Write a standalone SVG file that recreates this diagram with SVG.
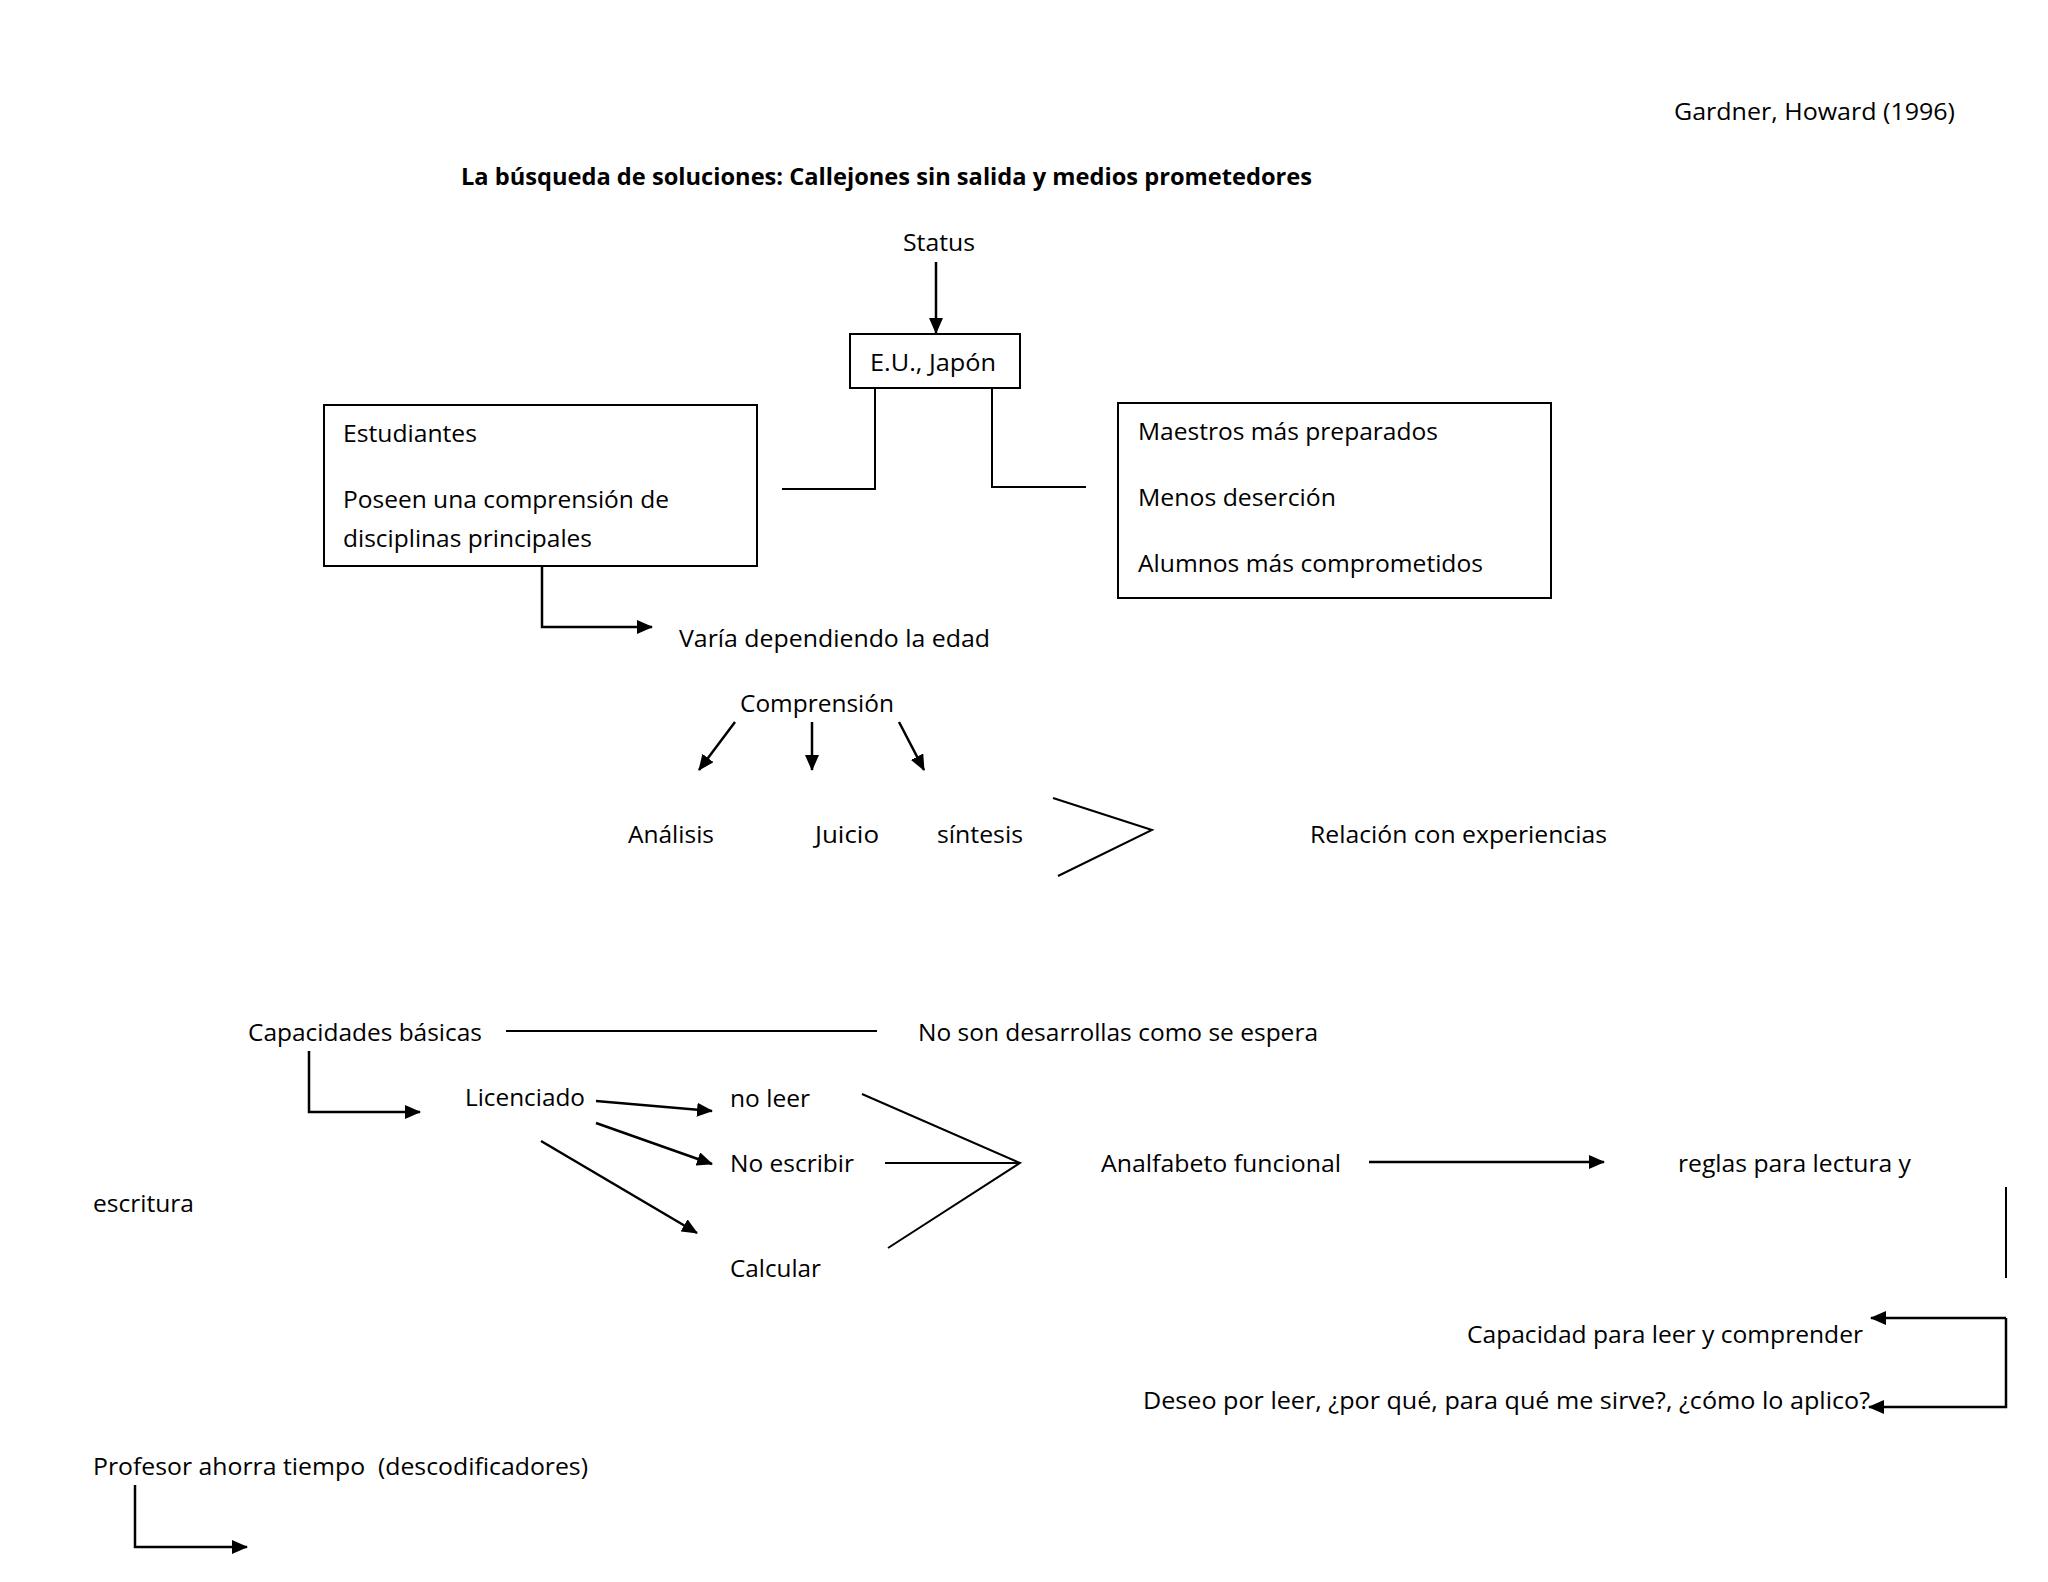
<svg xmlns="http://www.w3.org/2000/svg" width="2048" height="1582" viewBox="0 0 2048 1582">
<style>
text{font-family:"Open Sans","Liberation Sans",sans-serif;font-size:23px;fill:#000}
.b{font-weight:bold;font-size:24px}
.box{fill:#fff;stroke:#000;stroke-width:2}
.ln{fill:none;stroke:#000;stroke-width:2}
.ar{fill:none;stroke:#000;stroke-width:2.5;marker-end:url(#ah)}
</style>
<defs>
<marker id="ah" markerWidth="16" markerHeight="14" refX="15" refY="7" orient="auto" markerUnits="userSpaceOnUse"><path d="M0,0 L16,7 L0,14 z" fill="#000"/></marker>
</defs>
<rect width="2048" height="1582" fill="#fff"/>
<g id="connectors">
<line class="ar" x1="936" y1="262" x2="936" y2="333"/>
<polyline class="ln" points="875,388 875,489 782,489"/>
<polyline class="ln" points="992,388 992,487 1086,487"/>
<polyline class="ar" points="542,565 542,627 652,627"/>
<line class="ar" x1="735" y1="722" x2="699" y2="770"/>
<line class="ar" x1="812" y1="722" x2="812" y2="770"/>
<line class="ar" x1="899" y1="722" x2="924" y2="770"/>
<polyline class="ln" points="1053,798 1152,830 1058,876"/>
<line class="ln" x1="506" y1="1031" x2="877" y2="1031"/>
<polyline class="ar" points="309,1051 309,1112 420,1112"/>
<line class="ar" x1="596" y1="1101" x2="712" y2="1111"/>
<line class="ar" x1="596" y1="1123" x2="712" y2="1164"/>
<line class="ar" x1="541" y1="1141" x2="697" y2="1233"/>
<polyline class="ln" points="862,1094 1020,1163 888,1248"/>
<line class="ln" x1="885" y1="1163" x2="1020" y2="1163"/>
<line class="ar" x1="1369" y1="1162" x2="1604" y2="1162"/>
<line class="ln" x1="2006" y1="1187" x2="2006" y2="1278"/>
<polyline class="ar" points="2006,1318 1871,1318"/>
<polyline class="ar" points="2006,1318 2006,1407 1869,1407"/>
<polyline class="ar" points="135,1485 135,1547 247,1547"/>
</g>
<g id="ref"><text x="1674" y="120" textLength="281" lengthAdjust="spacingAndGlyphs">Gardner, Howard (1996)</text></g>
<g id="title"><text class="b" x="461" y="185" textLength="851" lengthAdjust="spacingAndGlyphs">La búsqueda de soluciones: Callejones sin salida y medios prometedores</text></g>
<g id="status"><text x="903" y="251" textLength="72" lengthAdjust="spacingAndGlyphs">Status</text></g>
<g id="eu-japon"><rect class="box" x="850" y="334" width="170" height="54"/><text x="870" y="371" textLength="126" lengthAdjust="spacingAndGlyphs">E.U., Japón</text></g>
<g id="estudiantes"><rect class="box" x="324" y="405" width="433" height="161"/>
<text x="343" y="442" textLength="134" lengthAdjust="spacingAndGlyphs">Estudiantes</text>
<text x="343" y="508" textLength="326" lengthAdjust="spacingAndGlyphs">Poseen una comprensión de</text>
<text x="343" y="547" textLength="249" lengthAdjust="spacingAndGlyphs">disciplinas principales</text></g>
<g id="maestros"><rect class="box" x="1118" y="403" width="433" height="195"/>
<text x="1138" y="440" textLength="300" lengthAdjust="spacingAndGlyphs">Maestros más preparados</text>
<text x="1138" y="506" textLength="198" lengthAdjust="spacingAndGlyphs">Menos deserción</text>
<text x="1138" y="572" textLength="345" lengthAdjust="spacingAndGlyphs">Alumnos más comprometidos</text></g>
<g id="varia"><text x="679" y="647" textLength="311" lengthAdjust="spacingAndGlyphs">Varía dependiendo la edad</text></g>
<g id="comprension"><text x="740" y="712" textLength="154" lengthAdjust="spacingAndGlyphs">Comprensión</text></g>
<g id="analisis"><text x="628" y="843" textLength="86" lengthAdjust="spacingAndGlyphs">Análisis</text></g>
<g id="juicio"><text x="815" y="843" textLength="64" lengthAdjust="spacingAndGlyphs">Juicio</text></g>
<g id="sintesis"><text x="937" y="843" textLength="86" lengthAdjust="spacingAndGlyphs">síntesis</text></g>
<g id="relacion"><text x="1310" y="843" textLength="297" lengthAdjust="spacingAndGlyphs">Relación con experiencias</text></g>
<g id="capacidades"><text x="248" y="1041" textLength="234" lengthAdjust="spacingAndGlyphs">Capacidades básicas</text></g>
<g id="noson"><text x="918" y="1041" textLength="400" lengthAdjust="spacingAndGlyphs">No son desarrollas como se espera</text></g>
<g id="licenciado"><text x="465" y="1106" textLength="120" lengthAdjust="spacingAndGlyphs">Licenciado</text></g>
<g id="noleer"><text x="730" y="1107" textLength="80" lengthAdjust="spacingAndGlyphs">no leer</text></g>
<g id="noescribir"><text x="730" y="1172" textLength="124" lengthAdjust="spacingAndGlyphs">No escribir</text></g>
<g id="calcular"><text x="730" y="1277" textLength="91" lengthAdjust="spacingAndGlyphs">Calcular</text></g>
<g id="escritura"><text x="93" y="1212" textLength="101" lengthAdjust="spacingAndGlyphs">escritura</text></g>
<g id="analfabeto"><text x="1101" y="1172" textLength="240" lengthAdjust="spacingAndGlyphs">Analfabeto funcional</text></g>
<g id="reglas"><text x="1678" y="1172" textLength="233" lengthAdjust="spacingAndGlyphs">reglas para lectura y</text></g>
<g id="capacidad"><text x="1467" y="1343" textLength="396" lengthAdjust="spacingAndGlyphs">Capacidad para leer y comprender</text></g>
<g id="deseo"><text x="1143" y="1409" textLength="727" lengthAdjust="spacingAndGlyphs">Deseo por leer, ¿por qué, para qué me sirve?, ¿cómo lo aplico?</text></g>
<g id="profesor"><text xml:space="preserve" x="93" y="1475" textLength="495" lengthAdjust="spacingAndGlyphs">Profesor ahorra tiempo  (descodificadores)</text></g>
</svg>
